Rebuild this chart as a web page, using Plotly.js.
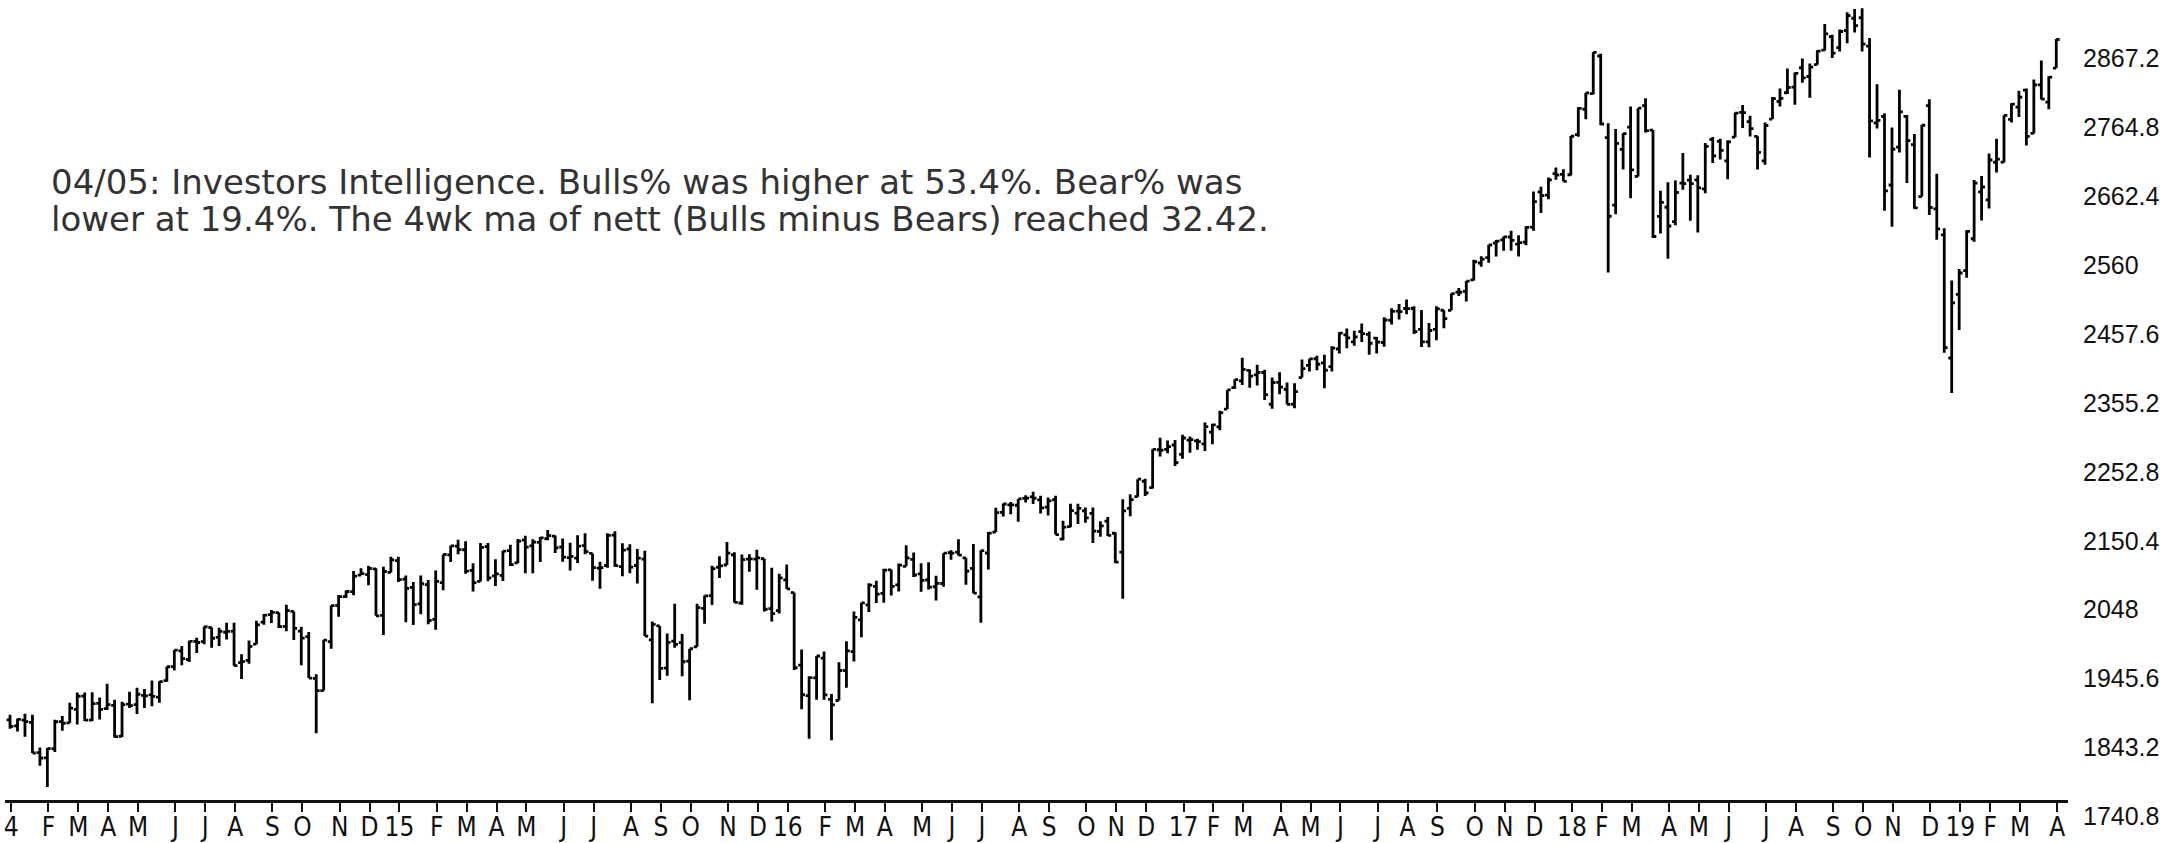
<!DOCTYPE html>
<html>
<head>
<meta charset="utf-8">
<script src="https://cdn.plot.ly/plotly-3.0.1.min.js"></script>
<style>
html,body{margin:0;padding:0;background:#fff;}
#chart{width:2179px;height:843px;}
</style>
</head>
<body>
<div id="chart"></div>
<script>
// Weekly S&P 500 bars, week ending 2014-01-03 ... 2019-04-05 (275 weeks)
const firstWeekEnding = '2014-01-03';

const opens = [
1841.5,1832.3,1841.1,1837.7,1791.0,1782.7,1797.0,1838.8,1836.8,1857.7,1878.3,1841.1,1867.0,1859.0,1863.9,1816.2,1865.8,1865.0,1879.5,1880.0,
1876.7,1902.0,1923.9,1948.0,1934.8,1962.9,1962.3,1984.2,1969.0,1976.9,1978.3,1929.8,1933.4,1958.4,1992.6,2004.1,2007.2,1986.0,2009.1,1978.7,
1970.0,1905.7,1886.8,1962.3,2018.2,2032.0,2039.7,2065.1,2065.8,2074.8,2002.9,2069.3,2087.6,2058.9,2046.1,2020.8,2050.4,1996.7,2053.5,2096.5,
2109.8,2104.3,2072.3,2055.4,2109.3,2064.1,2064.9,2102.9,2084.1,2119.3,2110.2,2115.6,2121.3,2125.3,2108.6,2092.3,2091.3,2110.6,2098.6,2075.8,
2080.0,2126.8,2078.2,2105.5,2080.0,2090.0,1965.2,1986.7,1921.5,1963.1,1960.8,1932.2,1954.3,2013.7,2033.5,2077.3,2080.8,2096.6,2022.1,2090.0,
2090.0,2090.4,2013.4,2010.3,2057.8,2038.2,1926.1,1878.9,1906.3,1936.9,1873.3,1871.4,1917.8,1947.0,1996.1,2019.3,2047.9,2036.9,2073.2,2050.1,
2078.8,2089.4,2067.2,2057.6,2047.2,2052.2,2100.0,2100.8,2091.8,2075.6,2031.5,2099.3,2131.7,2162.0,2173.7,2173.1,2183.7,2186.1,2181.3,2170.2,
2181.6,2120.9,2140.0,2160.9,2164.3,2160.4,2132.6,2148.5,2129.8,2100.6,2168.3,2186.4,2210.2,2200.2,2258.8,2259.5,2266.2,2251.6,2273.6,2272.7,
2267.8,2286.0,2294.3,2321.7,2354.9,2365.2,2381.4,2374.4,2378.2,2329.1,2363.0,2352.3,2329.1,2370.3,2389.1,2399.4,2393.0,2387.2,2414.5,2436.3,
2425.4,2441.3,2437.0,2431.4,2424.5,2458.9,2472.9,2477.1,2477.1,2444.7,2425.5,2444.7,2474.4,2474.2,2502.5,2503.4,2521.2,2547.4,2555.7,2578.1,
2583.2,2587.5,2576.5,2579.5,2602.7,2657.2,2652.2,2685.4,2684.2,2683.7,2745.6,2784.9,2809.2,2867.2,2741.1,2636.8,2723.0,2757.4,2681.1,2790.5,
2752.7,2619.4,2633.5,2611.3,2670.7,2675.4,2675.7,2661.9,2738.3,2735.4,2705.1,2741.7,2780.2,2765.8,2742.9,2705.0,2769.7,2796.9,2810.4,2819.0,
2849.0,2835.5,2853.9,2876.2,2897.0,2880.0,2906.6,2925.5,2926.3,2882.5,2763.8,2773.9,2667.9,2726.4,2773.9,2730.1,2650.0,2790.5,2630.9,2590.8,
2400.6,2498.8,2535.6,2584.8,2657.4,2644.9,2703.0,2703.1,2769.3,2788.1,2814.4,2747.6,2822.6,2796.0,2848.6
];

const highs = [
1849.4,1843.2,1850.8,1849.3,1798.8,1798.0,1841.7,1847.5,1867.9,1883.6,1883.6,1884.0,1875.9,1897.3,1872.5,1869.6,1884.9,1891.3,1889.1,1902.2,
1901.3,1924.0,1949.4,1955.6,1963.9,1968.2,1985.6,1984.2,1983.9,1991.4,1991.4,1942.9,1964.0,1994.8,2005.0,2011.2,2007.2,2019.3,2009.1,1985.2,
1977.4,1912.1,1965.3,2018.2,2034.3,2041.3,2071.5,2075.8,2079.5,2075.8,2077.9,2093.6,2093.6,2064.4,2054.4,2064.6,2057.6,2072.4,2097.0,2110.6,
2119.6,2117.5,2083.5,2114.9,2114.9,2089.8,2102.6,2111.9,2120.9,2125.9,2120.5,2123.9,2134.7,2126.2,2121.9,2115.0,2126.6,2130.0,2098.6,2085.8,
2129.9,2132.8,2114.2,2112.7,2105.4,2102.9,1993.5,1986.7,1975.0,2020.9,1974.0,1951.4,2020.9,2033.5,2079.7,2094.3,2116.5,2100.5,2097.1,2097.2,
2104.3,2090.4,2076.7,2067.4,2081.6,2038.2,1950.3,1908.9,1940.2,1947.2,1881.6,1930.7,1963.0,2009.1,2022.4,2052.4,2056.6,2075.1,2074.0,2083.2,
2111.1,2099.9,2083.4,2084.9,2064.2,2099.1,2103.5,2120.6,2091.8,2113.3,2103.5,2131.7,2169.1,2175.6,2178.3,2182.9,2188.5,2193.8,2187.7,2184.9,
2187.9,2149.0,2175.3,2175.3,2169.6,2169.6,2148.4,2154.8,2131.5,2182.3,2189.9,2213.4,2214.1,2259.8,2277.5,2273.0,2273.8,2282.1,2279.3,2276.0,
2301.0,2299.0,2319.2,2351.3,2367.8,2401.0,2382.9,2390.0,2382.4,2370.4,2378.4,2362.9,2361.4,2398.2,2399.3,2403.9,2405.8,2418.7,2440.2,2446.2,
2442.6,2453.8,2441.6,2433.0,2463.5,2477.6,2484.0,2490.9,2480.4,2474.9,2454.8,2480.4,2474.5,2500.2,2508.9,2519.4,2552.5,2557.7,2575.4,2583.0,
2588.4,2597.0,2590.1,2604.2,2657.7,2665.2,2679.6,2695.0,2692.1,2743.5,2787.9,2810.3,2872.9,2870.6,2763.4,2754.4,2747.8,2789.2,2786.6,2802.0,
2752.7,2659.1,2672.1,2674.8,2717.5,2683.6,2682.9,2732.9,2742.1,2739.2,2736.9,2779.9,2791.5,2775.0,2743.3,2764.4,2804.0,2816.8,2848.0,2841.6,
2863.4,2855.6,2876.2,2916.5,2900.2,2908.3,2934.8,2939.9,2940.9,2894.8,2823.4,2778.9,2756.6,2815.2,2776.0,2746.8,2760.9,2800.2,2685.4,2601.1,
2520.3,2538.1,2597.8,2675.5,2681.8,2716.7,2739.4,2775.7,2794.2,2813.5,2816.9,2830.7,2860.3,2836.0,2893.4
];

const lows = [
1827.7,1823.7,1815.5,1790.3,1770.5,1737.9,1791.8,1824.6,1836.8,1834.4,1839.6,1839.8,1842.1,1856.7,1814.4,1815.1,1859.7,1850.6,1859.8,1862.4,
1868.1,1900.5,1917.6,1925.8,1930.9,1944.7,1958.2,1952.9,1955.6,1965.8,1925.2,1904.8,1928.3,1958.4,1988.6,1991.1,1983.3,1978.5,1965.0,1926.0,
1906.1,1820.7,1886.8,1951.4,2001.0,2030.2,2034.0,2064.8,2049.6,2002.3,1972.6,2069.3,2054.7,1992.4,1988.1,2004.5,1989.2,1980.9,2041.9,2085.4,
2097.4,2067.3,2039.7,2055.4,2055.5,2048.4,2056.2,2079.1,2083.8,2067.9,2067.9,2085.6,2119.2,2099.2,2085.7,2072.1,2083.9,2097.4,2056.6,2044.0,
2076.5,2077.9,2063.5,2067.9,2052.1,1970.9,1867.0,1903.1,1909.5,1953.0,1908.8,1871.9,1954.3,1990.0,2019.1,2060.6,2080.8,2022.7,2019.4,2070.3,
2042.4,2008.8,1993.3,2005.9,2043.6,1918.5,1857.8,1812.3,1872.7,1872.7,1810.1,1871.4,1891.0,1931.8,1969.3,2008.2,2022.1,2022.5,2033.8,2039.7,
2078.8,2062.3,2039.5,2043.0,2025.9,2047.3,2088.7,2095.3,2050.4,2037.3,1991.7,2074.0,2131.7,2155.8,2159.1,2147.6,2177.2,2175.1,2160.4,2157.1,
2127.8,2119.1,2139.2,2144.0,2146.0,2114.7,2124.5,2125.4,2083.8,2028.5,2156.1,2186.4,2187.4,2198.9,2248.4,2253.6,2233.6,2245.1,2254.3,2258.8,
2257.0,2267.2,2288.9,2321.7,2352.9,2358.9,2354.5,2358.0,2335.7,2322.3,2344.5,2328.9,2323.0,2370.3,2379.8,2381.7,2353.8,2379.7,2407.7,2415.7,
2419.4,2425.3,2405.7,2407.7,2418.0,2452.2,2459.9,2468.1,2437.8,2417.4,2417.3,2428.2,2446.6,2474.2,2496.3,2488.0,2520.4,2541.6,2547.9,2557.4,
2566.2,2566.3,2557.4,2574.9,2597.0,2624.8,2646.0,2676.1,2673.6,2682.4,2742.4,2769.6,2808.1,2760.0,2532.7,2622.5,2692.0,2647.3,2681.1,2749.1,
2585.9,2593.1,2553.8,2605.5,2660.7,2612.7,2594.6,2655.2,2701.9,2707.4,2676.8,2741.7,2755.9,2742.9,2692.0,2699.0,2769.7,2789.2,2808.6,2791.7,
2825.8,2802.5,2853.8,2875.8,2864.1,2874.3,2886.9,2903.3,2874.0,2710.5,2755.2,2628.2,2603.5,2717.9,2670.8,2631.1,2650.0,2621.5,2583.2,2408.6,
2346.6,2444.0,2524.6,2580.3,2612.9,2631.6,2687.3,2702.6,2764.5,2772.9,2728.8,2747.6,2800.0,2785.0,2848.6
];

const closes = [
1831.4,1842.4,1838.7,1790.3,1782.6,1797.0,1838.6,1836.3,1859.5,1878.0,1841.1,1866.5,1857.6,1865.1,1815.7,1864.9,1863.4,1881.1,1878.5,1877.9,
1900.5,1923.6,1949.4,1936.2,1962.9,1961.0,1985.4,1967.6,1978.2,1978.3,1925.2,1931.6,1955.1,1988.4,2003.4,2007.7,1985.5,2010.4,1982.9,1967.9,
1906.1,1886.8,1964.6,2018.1,2031.9,2039.8,2063.5,2067.6,2075.4,2002.3,2070.7,2088.8,2058.2,2044.8,2019.4,2051.8,1995.0,2055.5,2097.0,2110.3,
2104.5,2071.3,2053.4,2108.1,2061.0,2067.0,2102.1,2081.2,2117.7,2108.3,2116.1,2122.7,2126.1,2107.4,2092.8,2094.1,2110.0,2101.5,2076.8,2076.6,
2126.6,2079.7,2103.8,2077.6,2091.5,1970.9,1988.9,1921.2,1961.1,1958.0,1931.3,1951.4,2014.9,2033.1,2075.2,2079.4,2099.2,2023.0,2089.2,2090.1,
2091.7,2012.4,2005.6,2061.0,2043.9,1922.0,1880.3,1906.9,1940.2,1880.1,1864.8,1917.8,1948.1,2000.0,2022.2,2049.6,2035.9,2072.8,2047.6,2080.7,
2091.6,2065.3,2057.1,2046.6,2052.3,2099.1,2099.1,2096.1,2071.2,2037.4,2103.0,2129.9,2161.7,2175.0,2173.6,2182.9,2184.1,2183.9,2169.0,2180.0,
2127.8,2139.2,2164.7,2168.3,2153.7,2133.0,2141.2,2126.4,2085.2,2164.5,2181.9,2213.4,2192.0,2259.5,2258.1,2263.8,2238.8,2277.0,2274.6,2271.3,
2294.7,2297.4,2316.1,2351.2,2367.3,2383.1,2372.6,2378.3,2344.0,2362.7,2355.5,2329.0,2348.7,2384.2,2399.3,2390.9,2381.7,2415.8,2439.1,2431.8,
2433.2,2438.3,2423.4,2425.2,2459.3,2472.5,2472.1,2476.8,2441.3,2425.6,2443.1,2476.6,2461.4,2500.2,2502.2,2519.4,2549.3,2553.2,2575.2,2581.1,
2587.8,2582.3,2578.9,2602.4,2642.2,2651.5,2675.8,2683.3,2673.6,2743.2,2786.2,2810.3,2872.9,2762.1,2619.6,2732.2,2747.3,2691.3,2786.6,2752.0,
2588.3,2640.9,2604.5,2656.3,2670.1,2669.9,2663.4,2727.7,2713.0,2721.3,2734.6,2779.0,2779.7,2754.9,2718.4,2759.8,2801.3,2801.8,2818.8,2840.4,
2833.3,2850.1,2874.7,2901.5,2871.7,2905.0,2929.7,2914.0,2885.6,2767.1,2767.8,2658.7,2723.1,2781.0,2736.3,2632.6,2760.2,2633.1,2600.0,2416.6,
2485.7,2531.9,2596.3,2670.7,2664.8,2706.5,2707.9,2775.6,2792.7,2803.7,2743.1,2822.5,2800.7,2834.4,2892.7
];

// Month tick labels, Jan 2014 ... Apr 2019
const monthLabels = [
'4','F','M','A','M','J','J','A','S','O','N','D',
'15','F','M','A','M','J','J','A','S','O','N','D',
'16','F','M','A','M','J','J','A','S','O','N','D',
'17','F','M','A','M','J','J','A','S','O','N','D',
'18','F','M','A','M','J','J','A','S','O','N','D',
'19','F','M','A'
];

const priceLabels = ['1740.8','1843.2','1945.6','2048','2150.4','2252.8','2355.2','2457.6','2560','2662.4','2764.8','2867.2'];

const noteLines = [
  '04/05: Investors Intelligence. Bulls% was higher at 53.4%. Bear% was',
  'lower at 19.4%. The 4wk ma of nett (Bulls minus Bears) reached 32.42.'
];

// ---- build
const DAY = 864e5;
const t0 = Date.parse(firstWeekEnding + 'T00:00:00Z');
const dates = closes.map((_, i) => new Date(t0 + i * 7 * DAY).toISOString().slice(0, 10));

// month tick = first weekly bar that ends inside the month (+1 day)
const tickVals = monthLabels.map((_, i) => {
  const y = 2014 + Math.floor(i / 12), m = i % 12;
  const key = y + '-' + String(m + 1).padStart(2, '0');
  const first = dates.find(d => d.slice(0, 7) === key);
  return new Date(Date.parse(first + 'T00:00:00Z') + DAY).toISOString().slice(0, 10);
});

const trace = {
  type: 'ohlc',
  x: dates, open: opens, high: highs, low: lows, close: closes,
  xaxis: 'x', yaxis: 'y',
  increasing: {line: {color: '#000', width: 2.8}},
  decreasing: {line: {color: '#000', width: 2.8}},
  tickwidth: 0.45,
  hoverinfo: 'skip',
  showlegend: false
};

// empty trace so the price-label axis exists
const labelAxisTrace = {type: 'scatter', x: [], y: [], xaxis: 'x', yaxis: 'y2', hoverinfo: 'skip', showlegend: false};

const PLOT_BOTTOM_FRAC = 43 / 843;

const layout = {
  width: 2179, height: 843,
  margin: {l: 5, r: 111, t: 0, b: 0, pad: 0},
  paper_bgcolor: '#fff', plot_bgcolor: 'rgba(0,0,0,0)',
  showlegend: false,
  xaxis: {
    type: 'date',
    anchor: 'y',
    range: ['2013-12-29 07:00', '2019-04-16'],
    rangeslider: {visible: false},
    tickmode: 'array', tickvals: tickVals, ticktext: monthLabels,
    ticks: 'outside', ticklen: 9, tickwidth: 2, tickcolor: '#111',
    ticklabelstandoff: -7,
    showline: true, linecolor: '#111', linewidth: 3,
    showgrid: false, zeroline: false, automargin: false,
    tickangle: 0,
    tickfont: {family: '"Liberation Sans Narrow", "DejaVu Sans Condensed", sans-serif', size: 26, color: '#111'},
    fixedrange: true
  },
  yaxis: {
    domain: [PLOT_BOTTOM_FRAC, 1],
    range: [1717.7, 2953.7],
    showticklabels: false, ticks: '', showline: false, showgrid: false, zeroline: false,
    automargin: false, fixedrange: true
  },
  yaxis2: {
    domain: [0, 1],
    anchor: 'free', position: 1, side: 'right',
    range: [1701.5, 2953.7],
    tickmode: 'array', tickvals: priceLabels.map(Number), ticktext: priceLabels,
    ticks: '', showline: false, showgrid: false, zeroline: false, automargin: false,
    ticklabelstandoff: 14,
    tickfont: {family: '"Liberation Sans", Arial, sans-serif', size: 25, color: '#111'},
    fixedrange: true
  },
  annotations: noteLines.map((t, i) => ({
    xref: 'paper', yref: 'paper', x: 0.0212, y: [0.784, 0.740][i],
    xanchor: 'left', yanchor: 'middle', align: 'left',
    showarrow: false, text: t,
    font: {family: '"DejaVu Sans", Verdana, sans-serif', size: 34, color: '#333'}
  }))
};

Plotly.newPlot('chart', [trace, labelAxisTrace], layout, {staticPlot: true, displayModeBar: false});
</script>
</body>
</html>
